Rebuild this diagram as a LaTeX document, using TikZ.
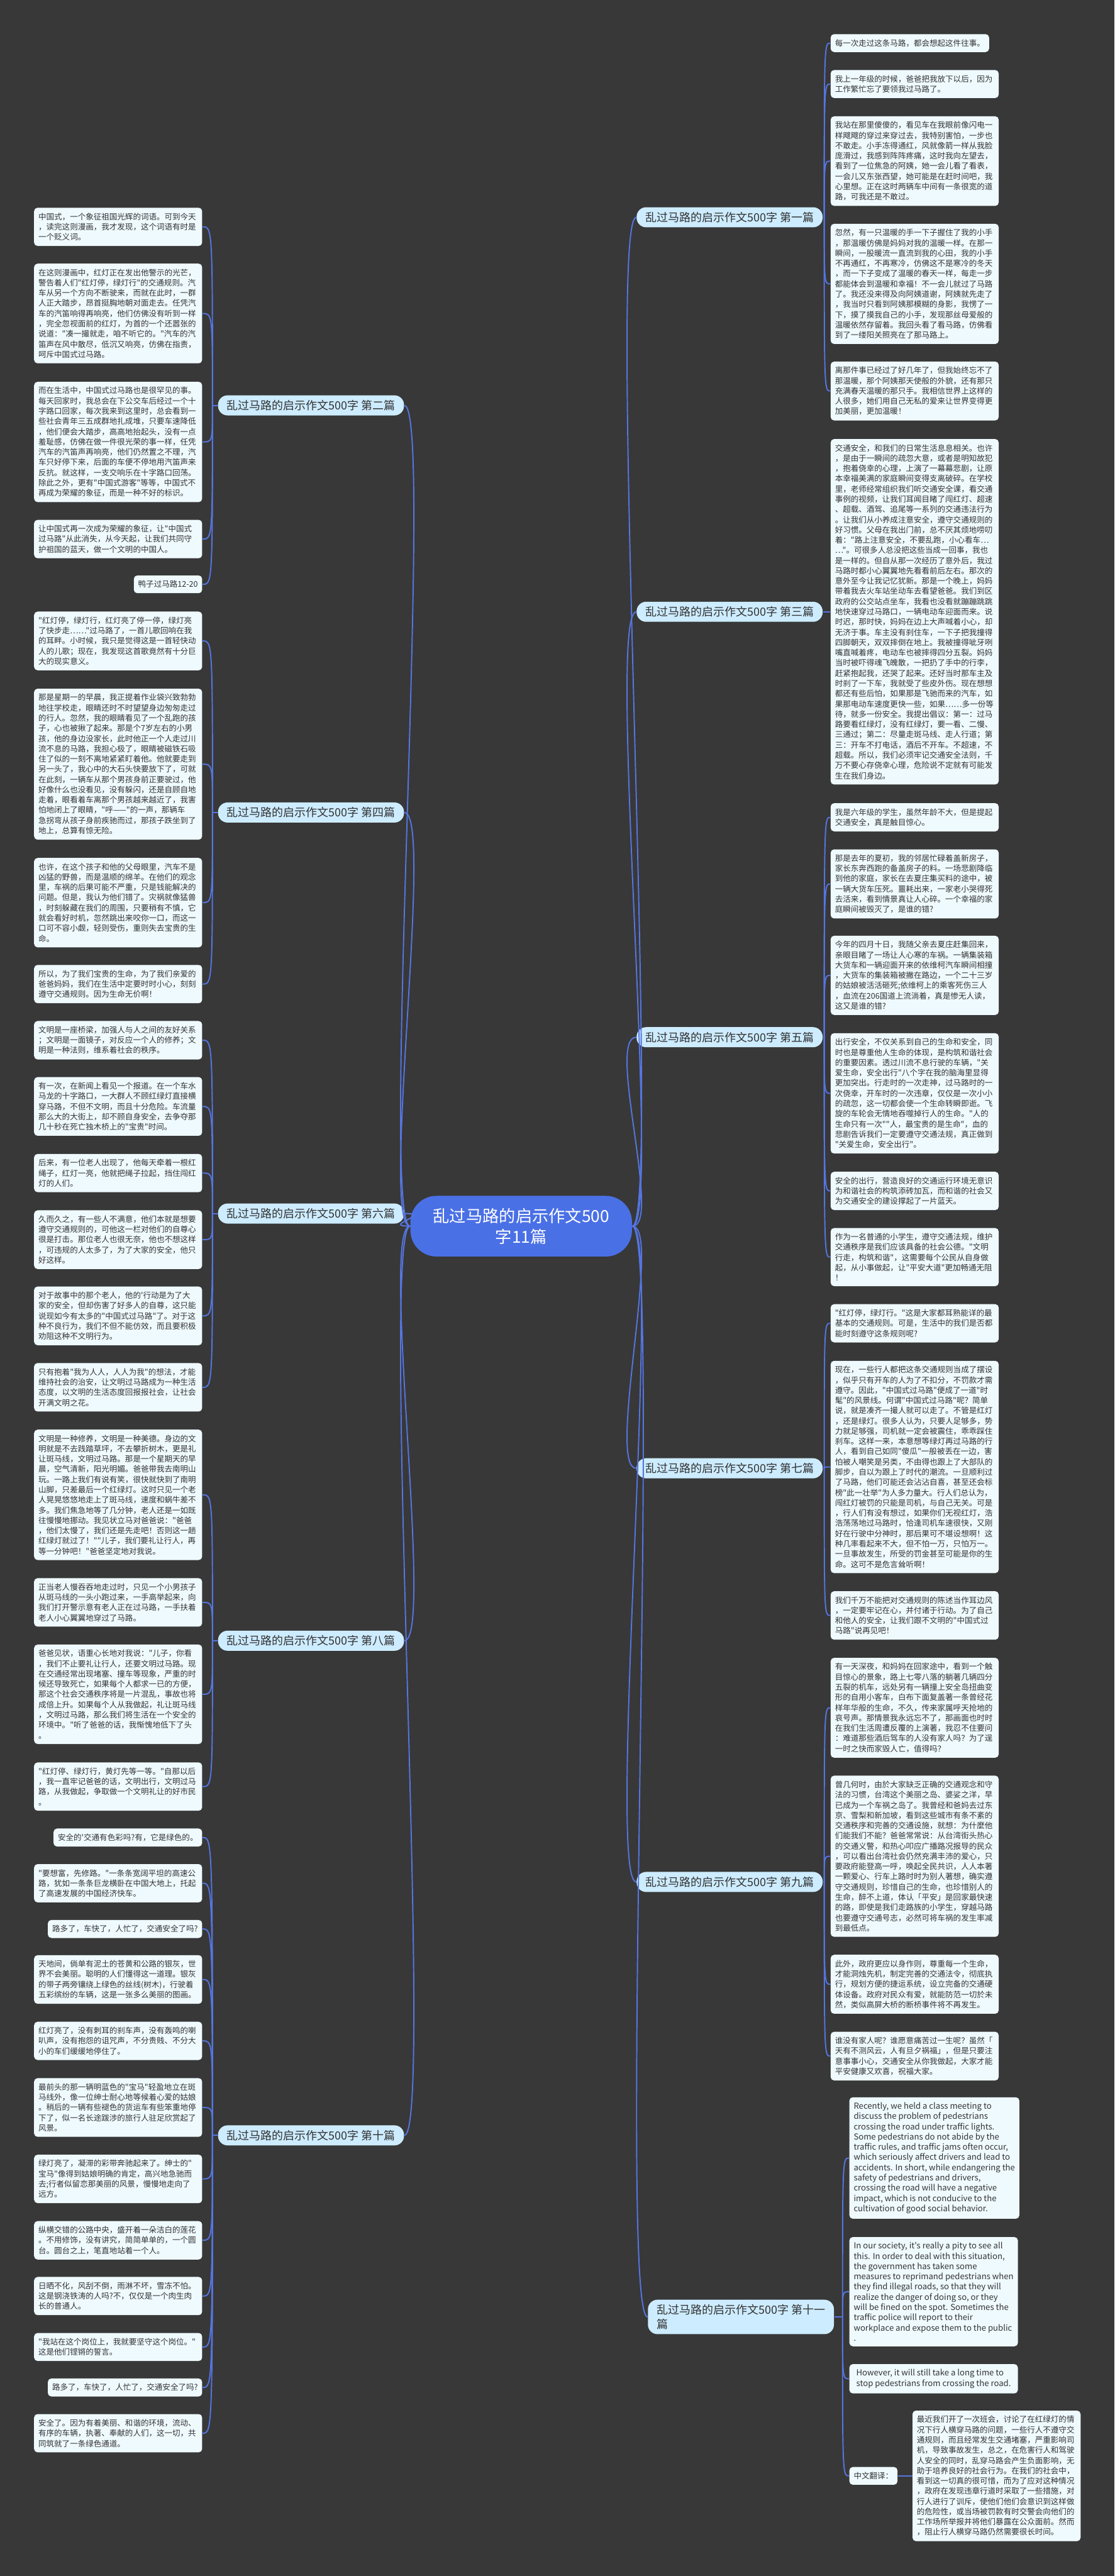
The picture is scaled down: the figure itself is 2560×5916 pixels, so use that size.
\documentclass[tikz,border=0pt]{standalone}
\usepackage{fontspec}
\setmainfont{Noto Sans CJK SC}[Ligatures=TeXOff]
\usepackage{xcolor}
\usepackage{tikz}
\definecolor{bgdark}{HTML}{383838}
\definecolor{leafbg}{HTML}{EFFAFF}
\definecolor{leaftext}{HTML}{333333}
\definecolor{secbg}{HTML}{CDECFF}
\definecolor{linkblue}{HTML}{5575E0}
\definecolor{topicblue}{HTML}{4A70E6}
\newcommand\leaffont{\fontsize{5.15pt}{6.69pt}\selectfont}
\newcommand\enfont{\fontsize{5.4pt}{6.69pt}\selectfont}
\newcommand\secfont{\fontsize{7.4pt}{9.4pt}\selectfont}
\newcommand\topicfont{\fontsize{10.8pt}{13.7pt}\selectfont}
\tikzset{
  leafbox/.style={fill=leafbg, text=leaftext, rounded corners=0.8mm, font=\leaffont, align=left, inner xsep=1mm, inner ysep=1.2mm},
  leafwide/.style={leafbox, text width=36.6mm},
  leafen/.style={leafbox, font=\enfont, minimum width=38.7mm},
  secbox/.style={fill=secbg, text=leaftext, rounded corners=2.2mm, font=\secfont, align=left, inner xsep=2mm, inner ysep=1.1mm},
  topicbox/.style={fill=topicblue, text=white, rounded corners=6mm, font=\topicfont, align=center, inner xsep=5.2mm, inner ysep=2.8mm},
  conn/.style={draw=linkblue, line width=0.8pt}
}
\begin{document}
\begin{tikzpicture}[x=0.1mm, y=-0.1mm]
  \fill[bgdark] (0,0) rectangle (2560,5916);
  \useasboundingbox (0,0) rectangle (2560,5916);

  % centre and sections
  \node[topicbox] (topic) at (1197,2816) {乱过马路的启示作文500\\字11篇};
  \node[secbox, anchor=east] (sec1) at (1890,499) {乱过马路的启示作文500字 第一篇};
  \node[secbox, anchor=west] (sec2) at (500,931) {乱过马路的启示作文500字 第二篇};
  \node[secbox, anchor=east] (sec3) at (1890,1405) {乱过马路的启示作文500字 第三篇};
  \node[secbox, anchor=west] (sec4) at (500,1866) {乱过马路的启示作文500字 第四篇};
  \node[secbox, anchor=east] (sec5) at (1890,2382) {乱过马路的启示作文500字 第五篇};
  \node[secbox, anchor=west] (sec6) at (500,2787) {乱过马路的启示作文500字 第六篇};
  \node[secbox, anchor=east] (sec7) at (1890,3372) {乱过马路的启示作文500字 第七篇};
  \node[secbox, anchor=west] (sec8) at (500,3768) {乱过马路的启示作文500字 第八篇};
  \node[secbox, anchor=east] (sec9) at (1890,4322) {乱过马路的启示作文500字 第九篇};
  \node[secbox, anchor=west] (sec10) at (500,4904) {乱过马路的启示作文500字 第十篇};
  \node[secbox, anchor=east] (sec11) at (1916,5321) {乱过马路的启示作文500字 第十一\\篇};

  \foreach \s in {sec2,sec4,sec6,sec8,sec10}
    \draw[conn] (topic.west) .. controls +(-70,0) and +(70,0) .. (\s.east);
  \foreach \s in {sec1,sec3,sec5,sec7,sec9,sec11}
    \draw[conn] (topic.east) .. controls +(70,0) and +(-70,0) .. (\s.west);

  % section 1
  \node[leafbox, anchor=west] (s1a) at (1907,99) {每一次走过这条马路，都会想起这件往事。};
  \node[leafwide, anchor=west] (s1b) at (1907,193) {我上一年级的时候，爸爸把我放下以后，因为\\工作繁忙忘了要领我过马路了。};
  \node[leafwide, anchor=west] (s1c) at (1907,370) {我站在那里傻傻的，看见车在我眼前像闪电一\\样飕飕的穿过来穿过去，我特别害怕，一步也\\不敢走。小手冻得通红，风就像箭一样从我脸\\庞滑过，我感到阵阵疼痛，这时我向左望去，\\看到了一位焦急的阿姨，她一会儿看了看表，\\一会儿又东张西望，她可能是在赶时间吧，我\\心里想。正在这时两辆车中间有一条很宽的道\\路，可我还是不敢过。};
  \node[leafwide, anchor=west] (s1d) at (1907,652) {忽然，有一只温暖的手一下子握住了我的小手\\，那温暖仿佛是妈妈对我的温暖一样。在那一\\瞬间，一股暖流一直流到我的心田，我的小手\\不再通红，不再寒冷，仿佛这不是寒冷的冬天\\，而一下子变成了温暖的春天一样，每走一步\\都能体会到温暖和幸福！不一会儿就过了马路\\了。我还没来得及向阿姨道谢，阿姨就先走了\\，我当时只看到阿姨那模糊的身影，我愣了一\\下，摸了摸我自己的小手，发现那丝母爱般的\\温暖依然存留着。我回头看了看马路，仿佛看\\到了一缕阳关照亮在了那马路上。};
  \node[leafwide, anchor=west] (s1e) at (1907,898) {离那件事已经过了好几年了，但我始终忘不了\\那温暖，那个阿姨那天使般的外貌，还有那只\\充满春天温暖的那只手。我相信世界上这样的\\人很多，她们用自己无私的爱来让世界变得更\\加美丽，更加温暖！};
  \coordinate (j1) at (1893,499);
  \draw[conn] (sec1.east) -- (j1);
  \foreach \l in {s1a,s1b,s1c,s1d,s1e}
    \draw[conn] (j1) .. controls (j1 |- \l.west) .. (\l.west);

  % section 2
  \node[leafwide, anchor=east] (s2a) at (465,521) {中国式，一个象征祖国光辉的词语。可到今天\\，读完这则漫画，我才发现，这个词语有时是\\一个贬义词。};
  \node[leafwide, anchor=east] (s2b) at (465,720) {在这则漫画中，红灯正在发出他警示的光芒，\\警告着人们"红灯停，绿灯行"的交通规则。汽\\车从另一个方向不断驶来，而就在此时，一群\\人正大踏步，昂首挺胸地朝对面走去。任凭汽\\车的汽笛响得再响亮，他们仿佛没有听到一样\\，完全忽视面前的红灯，为首的一个还嚣张的\\说道："凑一撮就走，咱不听它的。"汽车的汽\\笛声在风中散尽，低沉又响亮，仿佛在指责，\\呵斥中国式过马路。};
  \node[leafwide, anchor=east] (s2c) at (465,1015) {而在生活中，中国式过马路也是很罕见的事。\\每天回家时，我总会在下公交车后经过一个十\\字路口回家，每次我来到这里时，总会看到一\\些社会青年三五成群地扎成堆，只要车速降低\\，他们便会大踏步，高高地抬起头，没有一点\\羞耻感，仿佛在做一件很光荣的事一样，任凭\\汽车的汽笛声再响亮，他们仍然置之不理，汽\\车只好停下来，后面的车便不停地用汽笛声来\\反抗。就这样，一支交响乐在十字路口回荡。\\除此之外，更有"中国式游客"等等，中国式不\\再成为荣耀的象征，而是一种不好的标识。};
  \node[leafwide, anchor=east] (s2d) at (465,1238) {让中国式再一次成为荣耀的象征，让"中国式\\过马路"从此消失，从今天起，让我们共同守\\护祖国的蓝天，做一个文明的中国人。};
  \node[leafbox, anchor=east] (s2e) at (465,1342) {鸭子过马路12-20};
  \coordinate (j2) at (488,931);
  \draw[conn] (sec2.west) -- (j2);
  \foreach \l in {s2a,s2b,s2c,s2d,s2e}
    \draw[conn] (j2) .. controls (j2 |- \l.east) .. (\l.east);

  % section 3
  \node[leafwide, anchor=west] (s3a) at (1907,1405) {交通安全，和我们的日常生活息息相关。也许\\，是由于一瞬间的疏忽大意，或者是明知故犯\\，抱着侥幸的心理，上演了一幕幕悲剧，让原\\本幸福美满的家庭瞬间变得支离破碎。在学校\\里，老师经常组织我们听交通安全课，看交通\\事例的视频，让我们耳闻目睹了闯红灯、超速\\、超载、酒驾、追尾等一系列的交通违法行为\\。让我们从小养成注意安全，遵守交通规则的\\好习惯。父母在我出门前，总不厌其烦地唠叨\\着："路上注意安全，不要乱跑，小心看车…\\…"。可很多人总没把这些当成一回事，我也\\是一样的。但自从那一次经历了意外后，我过\\马路时都小心翼翼地先看看前后左右。那次的\\意外至今让我记忆犹新。那是一个晚上，妈妈\\带着我去火车站坐动车去看望爸爸。我们到区\\政府的公交站点坐车，我看也没看就蹦蹦跳跳\\地快速穿过马路口，一辆电动车迎面而来。说\\时迟，那时快，妈妈在边上大声喊着小心，却\\无济于事。车主没有刹住车，一下子把我撞得\\四脚朝天，双双摔倒在地上。我被撞得呲牙咧\\嘴直喊着疼，电动车也被摔得四分五裂。妈妈\\当时被吓得魂飞魄散，一把扔了手中的行李，\\赶紧抱起我，还哭了起来。还好当时那车主及\\时刹了一下车，我就受了些皮外伤。现在想想\\都还有些后怕，如果那是飞驰而来的汽车，如\\果那电动车速度更快一些，如果……多一份等\\待，就多一份安全。我提出倡议：第一：过马\\路要看红绿灯，没有红绿灯，要一看、二慢、\\三通过；第二：尽量走斑马线、走人行道；第\\三：开车不打电话，酒后不开车。不超速，不\\超载。所以，我们必须牢记交通安全法则，千\\万不要心存侥幸心理，危险说不定就有可能发\\生在我们身边。};
  \draw[conn] (sec3.east) -- (s3a.west);

  % section 4
  \node[leafwide, anchor=east] (s4a) at (465,1472) {"红灯停，绿灯行，红灯亮了停一停，绿灯亮\\了快步走……"过马路了，一首儿歌回响在我\\的耳畔。小时候，我只是觉得这是一首轻快动\\人的儿歌；现在，我发现这首歌竟然有十分巨\\大的现实意义。};
  \node[leafwide, anchor=east] (s4b) at (465,1755) {那是星期一的早晨，我正提着作业袋兴致勃勃\\地往学校走，眼睛还时不时望望身边匆匆走过\\的行人。忽然，我的眼睛看见了一个乱跑的孩\\子，心也被揪了起来。那是个7岁左右的小男\\孩，他的身边没家长，此时他正一个人走过川\\流不息的马路，我担心极了，眼睛被磁铁石吸\\住了似的一刻不离地紧紧盯着他。他就要走到\\另一头了，我心中的大石头快要放下了，可就\\在此刻，一辆车从那个男孩身前正要驶过，他\\好像什么也没看见，没有躲闪，还是自顾自地\\走着，眼看着车离那个男孩越来越近了，我害\\怕地闭上了眼睛，"呼——"的一声，那辆车\\急拐弯从孩子身前疾驰而过，那孩子跌坐到了\\地上，总算有惊无险。};
  \node[leafwide, anchor=east] (s4c) at (465,2073) {也许，在这个孩子和他的父母眼里，汽车不是\\凶猛的野兽，而是温顺的绵羊。在他们的观念\\里，车祸的后果可能不严重，只是钱能解决的\\问题。但是，我认为他们错了。灾祸就像猛兽\\，时刻躲藏在我们的周围，只要稍有不慎，它\\就会看好时机，忽然跳出来咬你一口，而这一\\口可不容小觑，轻则受伤，重则失去宝贵的生\\命。};
  \node[leafwide, anchor=east] (s4d) at (465,2260) {所以，为了我们宝贵的生命，为了我们亲爱的\\爸爸妈妈，我们在生活中定要时时小心，刻刻\\遵守交通规则。因为生命无价啊！};
  \coordinate (j4) at (488,1866);
  \draw[conn] (sec4.west) -- (j4);
  \foreach \l in {s4a,s4b,s4c,s4d}
    \draw[conn] (j4) .. controls (j4 |- \l.east) .. (\l.east);

  % section 5
  \node[leafwide, anchor=west] (s5a) at (1907,1877) {我是六年级的学生，虽然年龄不大，但是提起\\交通安全，真是触目惊心。};
  \node[leafwide, anchor=west] (s5b) at (1907,2030) {那是去年的夏初，我的邻居忙碌着盖新房子，\\家长东奔西跑的备盖房子的料。一场悲剧降临\\到他的家庭，家长在去夏庄集买料的途中，被\\一辆大货车压死。噩耗出来，一家老小哭得死\\去活来，看到情景真让人心碎。一个幸福的家\\庭瞬间被毁灭了，是谁的错?};
  \node[leafwide, anchor=west] (s5c) at (1907,2240) {今年的四月十日，我随父亲去夏庄赶集回来，\\亲眼目睹了一场让人心寒的车祸。一辆集装箱\\大货车和一辆迎面开来的依维柯汽车瞬间相撞\\，大货车的集装箱被撇在路边，一个二十三岁\\的姑娘被活活砸死;依维柯上的乘客死伤三人\\，血流在206国道上流淌着，真是惨无人读，\\这又是谁的错?};
  \node[leafwide, anchor=west] (s5d) at (1907,2511) {出行安全，不仅关系到自己的生命和安全，同\\时也是尊重他人生命的体现，是构筑和谐社会\\的重要因素。透过川流不息行驶的车辆，"关\\爱生命，安全出行"八个字在我的脑海里显得\\更加突出。行走时的一次走神，过马路时的一\\次侥幸，开车时的一次违章，仅仅是一次小小\\的疏忽，这一切都会使一个生命转瞬即逝。飞\\旋的车轮会无情地吞噬掉行人的生命。"人的\\生命只有一次""人，最宝贵的是生命"，血的\\悲剧告诉我们一定要遵守交通法规，真正做到\\"关爱生命，安全出行"。};
  \node[leafwide, anchor=west] (s5e) at (1907,2735) {安全的出行，营造良好的交通运行环境无意识\\为和谐社会的构筑添砖加瓦，而和谐的社会又\\为交通安全的建设撑起了一片蓝天。};
  \node[leafwide, anchor=west] (s5f) at (1907,2887) {作为一名普通的小学生，遵守交通法规，维护\\交通秩序是我们应该具备的社会公德。"文明\\行走，构筑和谐"，这需要每个公民从自身做\\起，从小事做起，让"平安大道"更加畅通无阻\\！};
  \coordinate (j5) at (1893,2382);
  \draw[conn] (sec5.east) -- (j5);
  \foreach \l in {s5a,s5b,s5c,s5d,s5e,s5f}
    \draw[conn] (j5) .. controls (j5 |- \l.west) .. (\l.west);

  % section 6
  \node[leafwide, anchor=east] (s6a) at (465,2389) {文明是一座桥梁，加强人与人之间的友好关系\\；文明是一面镜子，对反应一个人的修养；文\\明是一种法则，维系着社会的秩序。};
  \node[leafwide, anchor=east] (s6b) at (465,2541) {有一次，在新闻上看见一个报道。在一个车水\\马龙的十字路口，一大群人不顾红绿灯直接横\\穿马路，不但不文明，而且十分危险。车流量\\那么大的大街上，却不顾自身安全，去争夺那\\几十秒在死亡独木桥上的"宝贵"时间。};
  \node[leafwide, anchor=east] (s6c) at (465,2694) {后来，有一位老人出现了，他每天牵着一根红\\绳子，红灯一亮，他就把绳子拉起，挡住闯红\\灯的人们。};
  \node[leafwide, anchor=east] (s6d) at (465,2847) {久而久之，有一些人不满意，他们本就是想要\\遵守交通规则的，可他这一栏对他们的自尊心\\很是打击。那位老人也很无奈，他也不想这样\\，可违规的人太多了，为了大家的安全，他只\\好这样。};
  \node[leafwide, anchor=east] (s6e) at (465,3022) {对于故事中的那个老人，他的'行动是为了大\\家的安全，但却伤害了好多人的自尊，这只能\\说现如今有太多的"中国式过马路"了。对于这\\种不良行为，我们不但不能仿效，而且要积极\\劝阻这种不文明行为。};
  \node[leafwide, anchor=east] (s6f) at (465,3186) {只有抱着"我为人人，人人为我"的想法，才能\\维持社会的治安，让文明过马路成为一种生活\\态度，以文明的生活态度回报报社会，让社会\\开满文明之花。};
  \coordinate (j6) at (488,2787);
  \draw[conn] (sec6.west) -- (j6);
  \foreach \l in {s6a,s6b,s6c,s6d,s6e,s6f}
    \draw[conn] (j6) .. controls (j6 |- \l.east) .. (\l.east);

  % section 7
  \node[leafwide, anchor=west] (s7a) at (1907,3039) {"红灯停，绿灯行。"这是大家都耳熟能详的最\\基本的交通规则。可是，生活中的我们是否都\\能时刻遵守这条规则呢?};
  \node[leafwide, anchor=west] (s7b) at (1907,3369) {现在，一些行人都把这条交通规则当成了摆设\\，似乎只有开车的人为了不扣分，不罚款才需\\遵守。因此，"中国式过马路"便成了一道"时\\髦"的风景线。何谓"中国式过马路"呢？简单\\说，就是凑齐一撮人就可以走了。不管是红灯\\，还是绿灯。很多人认为，只要人足够多，势\\力就足够强，司机就一定会被震住，乖乖踩住\\刹车。这样一来，本意想等绿灯再过马路的行\\人，看到自己如同"傻瓜"一般被丢在一边，害\\怕被人嘲笑是另类，不由得也跟上了大部队的\\脚步，自以为跟上了时代的潮流。一旦顺利过\\了马路，他们可能还会沾沾自喜，甚至还会标\\榜"此一壮举"为人多力量大。行人们总认为，\\闯红灯被罚的只能是司机，与自己无关。可是\\，行人们有没有想过，如果你们无视红灯，浩\\浩荡荡地过马路时，恰逢司机车速很快，又刚\\好在行驶中分神时，那后果可不堪设想啊！这\\种几率看起来不大，但不怕一万，只怕万一。\\一旦事故发生，所受的罚金甚至可能是你的生\\命。这可不是危言耸听啊！};
  \node[leafwide, anchor=west] (s7c) at (1907,3710) {我们千万不能把对交通规则的陈述当作耳边风\\，一定要牢记在心，并付诸于行动。为了自己\\和他人的安全，让我们跟不文明的"中国式过\\马路"说再见吧！};
  \coordinate (j7) at (1893,3372);
  \draw[conn] (sec7.east) -- (j7);
  \foreach \l in {s7a,s7b,s7c}
    \draw[conn] (j7) .. controls (j7 |- \l.west) .. (\l.west);

  % section 8
  \node[leafwide, anchor=east] (s8a) at (465,3433) {文明是一种修养，文明是一种美德。身边的文\\明就是不去践踏草坪，不去攀折树木，更是礼\\让斑马线，文明过马路。那是一个星期天的早\\晨，空气清新，阳光明媚。爸爸带我去南明山\\玩。一路上我们有说有笑，很快就快到了南明\\山脚，只差最后一个红绿灯。这时只见一个老\\人晃晃悠悠地走上了斑马线，速度和蜗牛差不\\多。我们焦急地等了几分钟，老人还是一如既\\往慢慢地挪动。我见状立马对爸爸说："爸爸\\，他们太慢了，我们还是先走吧！否则这一趟\\红绿灯就过了！""儿子，我们要礼让行人，再\\等一分钟吧！"爸爸坚定地对我说。};
  \node[leafwide, anchor=east] (s8b) at (465,3680) {正当老人慢吞吞地走过时，只见一个小男孩子\\从斑马线的一头小跑过来，一手高举起来，向\\我们打开警示意有老人正在过马路，一手扶着\\老人小心翼翼地穿过了马路。};
  \node[leafwide, anchor=east] (s8c) at (465,3891) {爸爸见状，语重心长地对我说："儿子，你看\\，我们不止要礼让行人，还要文明过马路。现\\在交通经常出现堵塞、撞车等现象，严重的时\\候还导致死亡，如果每个人都求一已的方便，\\那这个社会交通秩序将是一片混乱，事故也将\\成倍上升。如果每个人从我做起，礼让斑马线\\，文明过马路，那么我们将生活在一个安全的\\环境中。"听了爸爸的话，我惭愧地低下了头\\。};
  \node[leafwide, anchor=east] (s8d) at (465,4103) {"红灯停、绿灯行，黄灯先等一等。"自那以后\\，我一直牢记爸爸的话，文明出行，文明过马\\路，从我做起，争取做一个文明礼让的好市民\\。};
  \coordinate (j8) at (488,3768);
  \draw[conn] (sec8.west) -- (j8);
  \foreach \l in {s8a,s8b,s8c,s8d}
    \draw[conn] (j8) .. controls (j8 |- \l.east) .. (\l.east);

  % section 9
  \node[leafwide, anchor=west] (s9a) at (1907,3922) {有一天深夜，和妈妈在回家途中，看到一个触\\目惊心的景象，路上七零八落的躺著几辆四分\\五裂的机车，远处另有一辆撞上安全岛扭曲变\\形的自用小客车，白布下面复盖著一条曾经花\\样年华般的生命，不久，传来家属呼天抢地的\\哀号声。那情景我永远忘不了，那画面也时时\\在我们生活周遭反覆的上演著，我忍不住要问\\：难道那些酒后驾车的人没有家人吗？为了逞\\一时之快而家毁人亡，值得吗？};
  \node[leafwide, anchor=west] (s9b) at (1907,4263) {曾几何时，由於大家缺乏正确的交通观念和守\\法的习惯，台湾这个美丽之岛、婆娑之洋，早\\已成为一个车祸之岛了。我曾经和爸妈去过东\\京、雪梨和新加坡，看到这些城市有条不紊的\\交通秩序和完善的交通设施，就想：为什麼他\\们能我们不能？爸爸常常说：从台湾街头热心\\的交通义警，和热心叩应广播路况报导的民众\\，可以看出台湾社会仍然充满丰沛的爱心，只\\要政府能登高一呼，唤起全民共识，人人本著\\一颗爱心、行车上路时时为别人著想，确实遵\\守交通规则，珍惜自己的生命，也珍惜别人的\\生命，醉不上道，体认「平安」是回家最快速\\的路，即使是我们走路族的小学生，穿越马路\\也要遵守交通号志，必然可将车祸的发生率减\\到最低点。};
  \node[leafwide, anchor=west] (s9c) at (1907,4557) {此外，政府更应以身作则，尊重每一个生命，\\才能洞烛先机，制定完善的交通法令，彻底执\\行，规划方便的捷运系统，设立完备的交通硬\\体设备。政府对民众有爱，就能防范一切於未\\然，类似高屏大桥的断桥事件将不再发生。};
  \node[leafwide, anchor=west] (s9d) at (1907,4722) {谁没有家人呢？谁愿意痛苦过一生呢？虽然「\\天有不测风云，人有旦夕祸福」，但是只要注\\意事事小心，交通安全从你我做起，大家才能\\平安健康又欢喜，祝福大家。};
  \coordinate (j9) at (1893,4322);
  \draw[conn] (sec9.east) -- (j9);
  \foreach \l in {s9a,s9b,s9c,s9d}
    \draw[conn] (j9) .. controls (j9 |- \l.west) .. (\l.west);

  % section 10
  \node[leafbox, anchor=east] (s10a) at (465,4220) {安全的'交通有色彩吗?有，它是绿色的。};
  \node[leafwide, anchor=east] (s10b) at (465,4325) {"要想富，先修路。"一条条宽阔平坦的高速公\\路，犹如一条条巨龙横卧在中国大地上，托起\\了高速发展的中国经济快车。};
  \node[leafbox, anchor=east] (s10c) at (465,4430) {路多了，车快了，人忙了，交通安全了吗?};
  \node[leafwide, anchor=east] (s10d) at (465,4546) {天地间，倘单有泥土的苍黄和公路的银灰，世\\界不会美丽。聪明的人们懂得这一道理。银灰\\的带子两旁镶绕上绿色的丝线(树木)，行驶着\\五彩缤纷的车辆，这是一张多么美丽的图画。};
  \node[leafwide, anchor=east] (s10e) at (465,4687) {红灯亮了，没有刺耳的刹车声，没有轰鸣的喇\\叭声，没有抱怨的诅咒声，不分贵贱、不分大\\小的车们缓缓地停住了。};
  \node[leafwide, anchor=east] (s10f) at (465,4840) {最前头的那一辆明蓝色的"宝马"轻盈地立在斑\\马线外，像一位绅士耐心地等候着心爱的姑娘\\。稍后的一辆有些褪色的货运车有些笨重地停\\下了，似一名长途跋涉的旅行人驻足欣赏起了\\风景。};
  \node[leafwide, anchor=east] (s10g) at (465,5004) {绿灯亮了，凝滞的彩带奔驰起来了。绅士的"\\宝马"像得到姑娘明确的肯定，高兴地急驰而\\去;行者似留恋那美丽的风景，慢慢地走向了\\远方。};
  \node[leafwide, anchor=east] (s10h) at (465,5145) {纵横交错的公路中央，盛开着一朵洁白的莲花\\。不用修饰，没有讲究，简简单单的，一个圆\\台。圆台之上，笔直地站着一个人。};
  \node[leafwide, anchor=east] (s10i) at (465,5273) {日晒不化，风刮不倒，雨淋不坏，雪冻不怕。\\这是钢浇铁涛的人吗?不，仅仅是一个肉生肉\\长的普通人。};
  \node[leafwide, anchor=east] (s10j) at (465,5390) {"我站在这个岗位上，我就要坚守这个岗位。"\\这是他们铿锵的誓言。};
  \node[leafbox, anchor=east] (s10k) at (465,5483) {路多了，车快了，人忙了，交通安全了吗?};
  \node[leafwide, anchor=east] (s10l) at (465,5588) {安全了。因为有着美丽、和谐的环境，流动、\\有序的车辆，执著、奉献的人们，这一切，共\\同筑就了一条绿色通道。};
  \coordinate (j10) at (488,4904);
  \draw[conn] (sec10.west) -- (j10);
  \foreach \l in {s10a,s10b,s10c,s10d,s10e,s10f,s10g,s10h,s10i,s10j,s10k,s10l}
    \draw[conn] (j10) .. controls (j10 |- \l.east) .. (\l.east);

  % section 11
  \node[leafen, anchor=west] (s11a) at (1950,4956) {Recently, we held a class meeting to\\discuss the problem of pedestrians\\crossing the road under traffic lights.\\Some pedestrians do not abide by the\\traffic rules, and traffic jams often occur,\\which seriously affect drivers and lead to\\accidents. In short, while endangering the\\safety of pedestrians and drivers,\\crossing the road will have a negative\\impact, which is not conducive to the\\cultivation of good social behavior.};
  \node[leafen, anchor=west] (s11b) at (1950,5263) {In our society, it's really a pity to see all\\this. In order to deal with this situation,\\the government has taken some\\measures to reprimand pedestrians when\\they find illegal roads, so that they will\\realize the danger of doing so, or they\\will be fined on the spot. Sometimes the\\traffic police will report to their\\workplace and expose them to the public\\.};
  \node[leafen, anchor=west] (s11c) at (1950,5463) {However, it will still take a long time to\\stop pedestrians from crossing the road.};
  \node[leafbox, anchor=west] (s11d) at (1950,5686) {中文翻译：};
  \node[leafwide, anchor=west] (s11e) at (2095,5686) {最近我们开了一次班会，讨论了在红绿灯的情\\况下行人横穿马路的问题，一些行人不遵守交\\通规则，而且经常发生交通堵塞，严重影响司\\机，导致事故发生，总之，在危害行人和驾驶\\人安全的同时，乱穿马路会产生负面影响，无\\助于培养良好的社会行为。在我们的社会中，\\看到这一切真的很可惜，而为了应对这种情况\\，政府在发现违章行道时采取了一些措施，对\\行人进行了训斥，使他们他们会意识到这样做\\的危险性，或当场被罚款有时交警会向他们的\\工作场所举报并将他们暴露在公众面前。然而\\，阻止行人横穿马路仍然需要很长时间。};
  \coordinate (j11) at (1935,5321);
  \draw[conn] (sec11.east) -- (j11);
  \foreach \l in {s11a,s11b,s11c,s11d}
    \draw[conn] (j11) .. controls (j11 |- \l.west) .. (\l.west);
  \draw[conn] (s11d.east) -- (s11e.west);
\end{tikzpicture}
\end{document}
